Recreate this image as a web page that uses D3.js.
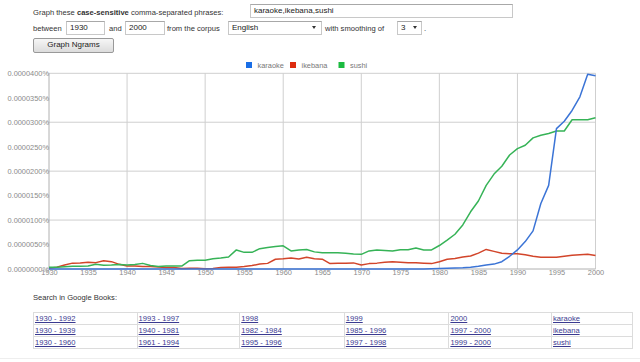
<!DOCTYPE html>
<html>
<head>
<meta charset="utf-8">
<script src="https://cdn.jsdelivr.net/npm/d3@7"></script>
<style>
  body { margin: 0; width: 640px; height: 362px; overflow: hidden; background: #fff;
         font-family: Arial, "Liberation Sans", sans-serif; font-size: 7.6px; color: #333; position: relative; }
  .abs { position: absolute; white-space: nowrap; }
  .box { position: absolute; box-sizing: border-box; border: 1px solid #c8c8c8; border-top-color: #a8a8a8;
         background: #fff; padding-left: 3px; font-size: 8px; line-height: 12px; color: #222; white-space: nowrap; }
  .arrow { position: absolute; top: 4px; width: 0; height: 0; border-left: 2.5px solid transparent;
           border-right: 2.5px solid transparent; border-top: 3px solid #333; }
  .btn { position: absolute; box-sizing: border-box; border: 1px solid #999; border-radius: 2px;
         background: linear-gradient(#f6f6f6, #dcdcdc); text-align: center; font-size: 8px; line-height: 12px; color: #222; }
  #chart { position: absolute; left: 0; top: 0; }
  #books { position: absolute; left: 33px; top: 312px; width: 600px; border-collapse: collapse; font-size: 7.6px; }
  #books td { border: 1px solid #dcdcdc; padding: 0 1px; height: 11px; line-height: 11px; }
  #books a { color: #3a3a90; text-decoration: underline; }
</style>
</head>
<body>
<svg id="chart" width="640" height="362"></svg>
<div id="form"></div>
<table id="books"></table>
<script>
// values in units of 0.0000001 %
const years = d3.range(1930, 2001);
const seriesNames = ["karaoke", "ikebana", "sushi"];
const seriesColors = ["#3b74d6", "#d2452a", "#36b357"];
const legendColors = ["#1a6ee6", "#dd2c10", "#1cbb40"];

const karaoke = [
  0, 0, 0, 0, 0, 0, 0, 0, 0, 0,
  0, 0, 0, 0, 0, 0, 0, 0, 0, 0,
  0, 0, 0, 0, 0, 0, 0, 0, 0, 0,
  0, 0, 0, 0, 0, 0, 0, 0, 0, 0,
  0, 0, 0, 0, 0, 0, 0, 0, 0, 0.5,
  1, 1.5, 2, 2.5, 3.5, 5.5, 8, 10, 15, 26,
  39, 56, 78, 134, 171, 287, 302, 324, 352, 398, 395
];
const ikebana = [
  1.5, 3.5, 8, 12, 12.5, 14, 13, 17, 15, 9.5,
  6, 6, 5, 5, 4, 3, 3, 1, 1.5, 1.5,
  0.5, 1, 3, 3.5, 3.5, 5, 7, 10, 11.5, 20,
  21, 22.5, 20.5, 24, 21, 20, 11, 11.5, 12, 12.5,
  8, 11, 12, 14, 15, 14, 13, 13, 12, 11,
  15, 20, 21.5, 24.5, 26.5, 32.5, 40, 36, 32, 31,
  31, 29, 26, 24, 24, 24, 26, 28, 29, 30, 27.5
];
const sushi = [
  3.5, 3.5, 4.5, 5.5, 5.5, 6, 9.5, 7.5, 8, 9,
  8, 9, 11.5, 7, 5, 6, 6, 6, 17, 18,
  18, 21, 22.5, 24.5, 39, 34, 34, 41.5, 44, 46,
  47.5, 37, 39, 40, 35, 33, 33, 33, 32, 30.5,
  30, 37, 39, 38, 37, 39.5, 39.5, 43, 39, 39,
  48, 59, 71, 90, 117, 139, 171, 194, 210, 233,
  246, 253, 268, 273.5, 277, 282, 282, 305, 305, 305, 309
];
const seriesValues = [karaoke, ikebana, sushi];

const yTicks = d3.range(0, 401, 50);
const yGrid = [100, 200, 300, 400];
const xTicks = d3.range(1930, 2001, 5);
const xGrid = d3.range(1940, 2001, 10);

const bookRows = [
  ["1930 - 1992", "1993 - 1997", "1998", "1999", "2000", "karaoke"],
  ["1930 - 1939", "1940 - 1981", "1982 - 1984", "1985 - 1996", "1997 - 2000", "ikebana"],
  ["1930 - 1960", "1961 - 1994", "1995 - 1996", "1997 - 1998", "1999 - 2000", "sushi"]
];

// ---- form at the top
const form = d3.select("#form");
function text(x, y, html) {
  form.append("div").attr("class", "abs").style("left", x + "px").style("top", y + "px").html(html);
}
function box(x, y, w, label, arrowAt) {
  const b = form.append("div").attr("class", "box")
    .style("left", x + "px").style("top", y + "px").style("width", w + "px").style("height", "14px")
    .text(label);
  if (arrowAt) b.append("div").attr("class", "arrow").style("left", arrowAt + "px");
}
text(33, 8, "Graph these <b>case-sensitive</b> comma-separated phrases:");
box(250, 4, 263, "karaoke,ikebana,sushi");
text(33, 24, "between");
box(66, 21, 39, "1930");
text(109, 24, "and");
box(125, 21, 40, "2000");
text(167, 24, "from the corpus");
box(228, 21, 94, "English", 83);
text(325, 24, "with smoothing of");
box(397, 21, 25, "3", 15);
text(424, 24, ".");
form.append("div").attr("class", "btn")
  .style("left", "33px").style("top", "38px").style("width", "81px").style("height", "15px")
  .text("Graph Ngrams");

// ---- chart
const svg = d3.select("#chart");
const x = d3.scaleLinear().domain([1930, 2000]).range([49, 595.5]);
const y = d3.scaleLinear().domain([0, 400]).range([269, 73.3]);

svg.append("g").selectAll("line").data(yGrid).join("line")
  .attr("x1", x(1930)).attr("x2", x(2000))
  .attr("y1", d => y(d)).attr("y2", d => y(d))
  .attr("stroke", "#cfcfcf").attr("stroke-width", 1);
svg.append("g").selectAll("line").data(xGrid).join("line")
  .attr("x1", d => x(d)).attr("x2", d => x(d))
  .attr("y1", y(400)).attr("y2", y(0))
  .attr("stroke", "#cfcfcf").attr("stroke-width", 1);
svg.append("line")
  .attr("x1", x(1930)).attr("x2", x(1930)).attr("y1", y(400)).attr("y2", y(0))
  .attr("stroke", "#b0b0b0");
svg.append("line")
  .attr("x1", x(1930)).attr("x2", x(2000)).attr("y1", y(0)).attr("y2", y(0))
  .attr("stroke", "#b0b0b0");

const fmt = d3.format(".7f");
const yAxis = svg.append("g").attr("transform", `translate(${x(1930)},0)`)
  .call(d3.axisLeft(y).tickValues(yTicks).tickSize(0).tickPadding(0).tickFormat(d => fmt(d / 1e7) + "%"));
yAxis.select(".domain").remove();
yAxis.selectAll("text").attr("fill", "#8a8a8a").style("font-size", "7.4px")
  .style("font-family", "Arial, 'Liberation Sans', sans-serif");

const xAxis = svg.append("g").attr("transform", `translate(0,${y(0)})`)
  .call(d3.axisBottom(x).tickValues(xTicks).tickSize(0).tickPadding(1).tickFormat(d3.format("d")));
xAxis.select(".domain").remove();
xAxis.selectAll("text").attr("fill", "#8a8a8a").style("font-size", "7.4px")
  .style("font-family", "Arial, 'Liberation Sans', sans-serif");

const line = d3.line().x((d, i) => x(years[i])).y(d => y(d));
// draw ikebana and sushi first, karaoke on top near the end
[1, 2, 0].forEach(k => {
  svg.append("path").datum(seriesValues[k])
    .attr("fill", "none").attr("stroke", seriesColors[k]).attr("stroke-width", 1.5)
    .attr("stroke-linejoin", "round").attr("d", line);
});

// legend
const legendX = [246, 290, 338.5];
const legend = svg.append("g");
seriesNames.forEach((name, i) => {
  legend.append("rect").attr("x", legendX[i]).attr("y", 62).attr("width", 6).attr("height", 6)
    .attr("fill", legendColors[i]);
  legend.append("text").attr("x", legendX[i] + 11.5).attr("y", 67.7).text(name)
    .attr("fill", "#777").style("font-size", "7.4px")
    .style("font-family", "Arial, 'Liberation Sans', sans-serif");
});

// ---- search in Google Books
svg.append("text").attr("x", 33).attr("y", 300).text("Search in Google Books:")
  .attr("fill", "#333").style("font-size", "7.6px")
  .style("font-family", "Arial, 'Liberation Sans', sans-serif");
svg.append("line").attr("x1", 0).attr("x2", 640).attr("y1", 358.5).attr("y2", 358.5)
  .attr("stroke", "#eeeeee");

const colWidths = [104, 103, 105, 105, 103, 80];
d3.select("#books").selectAll("tr").data(bookRows).join("tr")
  .selectAll("td").data(d => d).join("td")
  .style("width", (d, i) => colWidths[i] + "px")
  .append("a").attr("href", "#").text(d => d);
</script>
</body>
</html>
